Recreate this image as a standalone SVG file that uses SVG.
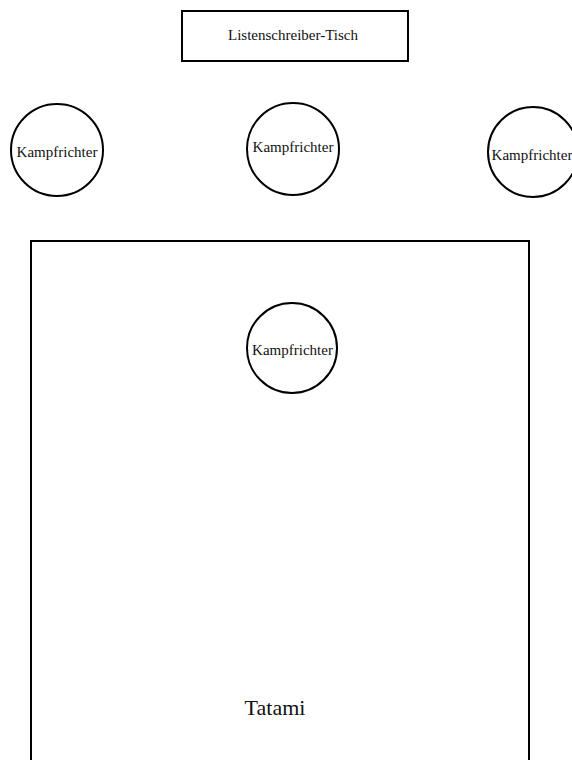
<svg xmlns="http://www.w3.org/2000/svg" width="572" height="760" viewBox="0 0 572 760">
<style>
.shape{fill:#fff;stroke:#000;stroke-width:2}
.lbl{font-family:"Liberation Serif","Times New Roman",serif;font-size:15px;fill:#111;text-anchor:middle}
.big{font-size:22px}
</style>
<rect width="572" height="760" fill="#fff"/>
<g id="tatami">
<rect class="shape" x="31" y="241" width="498" height="540"/>
<text class="lbl big" x="275" y="715">Tatami</text>
</g>
<g id="listenschreiber">
<rect class="shape" x="182" y="11" width="226" height="50"/>
<text class="lbl" x="293" y="40">Listenschreiber-Tisch</text>
</g>
<g id="kampfrichter1">
<circle class="shape" cx="57" cy="150" r="46"/>
<text class="lbl" x="57" y="157">Kampfrichter</text>
</g>
<g id="kampfrichter2">
<circle class="shape" cx="293" cy="149" r="46"/>
<text class="lbl" x="293" y="152">Kampfrichter</text>
</g>
<g id="kampfrichter3">
<circle class="shape" cx="533" cy="152" r="45"/>
<text class="lbl" x="532" y="160">Kampfrichter</text>
</g>
<g id="kampfrichter4">
<circle class="shape" cx="292" cy="348" r="45"/>
<text class="lbl" x="292.5" y="355">Kampfrichter</text>
</g>
<g id="connectors"/>
</svg>
